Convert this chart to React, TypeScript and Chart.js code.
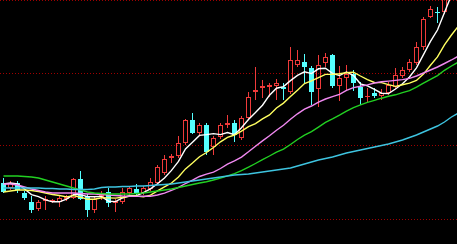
import React, { useEffect, useRef } from 'react';
import { Chart, registerables } from 'chart.js';

Chart.register(...registerables);

// trading-day index (x axis)
const days = [0,1,2,3,4,5,6,7,8,9,10,11,12,13,14,15,16,17,18,19,20,21,22,23,24,25,26,27,28,29,30,31,32,33,34,35,36,37,38,39,40,41,42,43,44,45,46,47,48,49,50,51,52,53,54,55,56,57,58,59,60,61,62,63,64,65];

// OHLC (last two days are above the visible range)
const opens = [6.7,6.2,6.7,5.7,4.8,4.1,4.9,4.8,4.8,5.1,5.2,7.1,5.4,4.0,5.3,5.8,4.7,4.8,5.7,6.1,5.7,6.1,6.7,7.7,9.2,9.4,10.7,13.0,11.7,12.5,10.3,11.3,12.5,12.7,11.2,13.2,15.8,16.2,16.3,16.4,16.3,15.8,18.5,18.8,18.2,16.1,18.7,19.5,16.4,17.2,17.6,16.3,15.3,15.7,15.4,15.7,16.3,17.4,18.0,18.7,20.3,23.3,23.8,23.8,null,null];
const highs = [7.2,6.9,6.9,5.9,5.4,5.0,5.4,5.1,5.5,5.5,7.2,7.9,5.6,5.3,5.9,6.2,5.1,6.2,6.4,6.6,6.4,7.2,8.5,9.5,9.6,11.4,13.1,13.7,12.7,12.7,11.4,12.7,13.5,13.0,13.4,15.8,18.3,17.0,16.7,17.1,16.7,20.3,20.0,19.6,18.4,19.5,19.7,19.6,18.4,18.5,18.0,16.8,16.2,16.2,16.1,16.8,18.2,18.3,19.1,20.8,23.3,24.4,24.3,28.0,null,null];
const lows = [5.7,6.0,5.7,5.0,3.7,3.9,4.0,4.7,4.3,4.9,5.1,5.0,3.3,3.7,5.0,4.3,3.8,4.6,5.5,5.5,5.5,5.9,6.5,7.5,8.7,9.2,10.5,11.6,11.5,9.5,9.5,11.1,12.2,10.8,11.0,13.0,15.0,15.2,15.3,15.0,15.0,15.6,18.3,16.7,14.5,14.3,18.3,16.2,14.9,16.0,15.9,14.5,14.7,15.2,15.0,15.5,16.1,17.2,17.8,18.5,20.0,23.2,22.7,23.6,null,null];
const closes = [5.8,6.7,6.0,5.2,4.0,4.8,5.1,5.0,5.2,5.3,7.1,5.1,4.0,5.1,5.5,4.7,4.9,5.8,6.2,5.6,6.2,6.8,8.3,9.1,9.4,10.7,13.0,11.7,12.5,9.8,11.2,12.5,12.7,11.5,13.2,15.3,16.0,16.4,16.5,16.7,16.1,19.0,19.0,18.3,15.8,18.5,19.3,16.4,17.2,17.6,16.7,15.2,15.4,15.4,15.7,16.5,17.5,18.0,18.8,20.3,23.1,24.1,23.7,27.5,null,null];

// moving averages
const ma5 = [6.6,6.7,6.6,6.1,5.54,5.34,5.02,4.82,4.82,5.08,5.54,5.54,5.34,5.32,5.36,4.88,4.84,5.2,5.42,5.44,5.74,6.12,6.62,7.2,7.96,8.86,10.1,10.78,11.46,11.54,11.64,11.54,11.74,11.54,12.22,13.04,13.74,14.48,15.48,16.18,16.34,16.94,17.46,17.82,17.64,18.12,18.18,17.66,17.44,17.8,17.44,16.62,16.42,16.06,15.68,15.64,16.1,16.62,17.3,18.22,19.54,20.86,22.0,23.74,25.5,27.5];
const ma10 = [5.8,5.9,6.0,6.0,5.95,5.85,5.7,5.55,5.45,5.31,5.44,5.28,5.08,5.07,5.22,5.21,5.19,5.27,5.37,5.4,5.31,5.48,5.91,6.31,6.7,7.3,8.11,8.7,9.33,9.75,10.25,10.82,11.26,11.5,11.88,12.34,12.64,13.11,13.51,14.2,14.69,15.34,15.97,16.65,16.91,17.23,17.56,17.56,17.63,17.72,17.78,17.4,17.04,16.75,16.74,16.54,16.36,16.52,16.68,16.95,17.59,18.48,19.31,20.52,21.5,22.4];
const ma20 = [6.6,6.6,6.5,6.3,6.1,5.95,5.8,5.7,5.7,5.7,5.7,5.65,5.6,5.6,5.55,5.5,5.45,5.4,5.38,5.36,5.38,5.38,5.5,5.69,5.96,6.26,6.65,6.99,7.35,7.58,7.78,8.15,8.59,8.91,9.29,9.82,10.38,10.91,11.42,11.98,12.47,13.08,13.62,14.08,14.4,14.79,15.1,15.34,15.57,15.96,16.24,16.37,16.51,16.7,16.83,16.89,16.96,17.04,17.16,17.4,17.7,18.0,18.3,18.65,19.0,19.4];
const ma30 = [7.4,7.4,7.4,7.35,7.3,7.2,7.0,6.8,6.6,6.4,6.2,6.0,5.8,5.7,5.65,5.6,5.6,5.6,5.6,5.65,5.7,5.8,5.9,6.0,6.1,6.25,6.4,6.55,6.7,6.82,7.0,7.19,7.42,7.63,7.93,8.28,8.65,9.03,9.4,9.78,10.08,10.55,11.05,11.49,11.83,12.29,12.77,13.12,13.49,13.89,14.24,14.52,14.76,14.97,15.18,15.37,15.52,15.73,15.94,16.29,16.69,17.07,17.44,17.97,18.4,18.8];
const ma60 = [6.2,6.2,6.2,6.2,6.2,6.2,6.15,6.15,6.1,6.1,6.05,6.05,6.05,6.1,6.25,6.3,6.3,6.35,6.35,6.4,6.4,6.45,6.5,6.55,6.6,6.7,6.8,6.9,7.0,7.1,7.2,7.3,7.4,7.5,7.55,7.6,7.7,7.8,7.9,8.0,8.1,8.2,8.4,8.6,8.8,9.0,9.15,9.3,9.5,9.7,9.85,10.0,10.15,10.3,10.45,10.6,10.8,11.0,11.25,11.5,11.8,12.1,12.4,12.8,13.3,13.7];

// horizontal reference levels (dotted grid)
const gridLevels = [3.1, 10.4, 17.7, 25.0];
const yMin = 0.6;
const yMax = 25.0;
const xMin = -0.5;
const xMax = 64.79;

const RED = '#f03a3a';
const CYAN = '#54ffff';

const candlePlugin = {
  id: 'candles',
  beforeDatasetsDraw(chart: any) {
    const { ctx, chartArea } = chart;
    const xs = chart.scales.x;
    const ys = chart.scales.y;
    ctx.save();
    ctx.beginPath();
    ctx.rect(chartArea.left, chartArea.top, chartArea.right - chartArea.left, chartArea.bottom - chartArea.top);
    ctx.clip();
    for (let i = 0; i < days.length; i++) {
      const o = opens[i];
      const h = highs[i];
      const l = lows[i];
      const c = closes[i];
      if (o == null || h == null || l == null || c == null) continue;
      const cx = Math.floor(xs.getPixelForValue(days[i]));
      const yo = Math.round(ys.getPixelForValue(o));
      const yc = Math.round(ys.getPixelForValue(c));
      const yh = Math.round(ys.getPixelForValue(h));
      const yl = Math.round(ys.getPixelForValue(l));
      const top = Math.min(yo, yc);
      const bot = Math.max(yo, yc);
      const hgt = Math.max(1, bot - top);
      if (c >= o) {
        ctx.fillStyle = RED;
        ctx.strokeStyle = RED;
        ctx.lineWidth = 1;
        if (top > yh) ctx.fillRect(cx, yh, 1, top - yh);
        if (yl > top + hgt) ctx.fillRect(cx, top + hgt, 1, yl - (top + hgt));
        if (hgt <= 2) {
          ctx.fillRect(cx - 2, top, 5, hgt);
        } else {
          ctx.strokeRect(cx - 2 + 0.5, top + 0.5, 4, hgt - 1);
        }
      } else {
        ctx.fillStyle = CYAN;
        ctx.fillRect(cx, yh, 1, Math.max(1, yl - yh));
        ctx.fillRect(cx - 2, top, 5, hgt);
      }
    }
    ctx.restore();
  },
};

function line(values: number[], color: string) {
  return {
    type: 'line' as const,
    data: values.map((v, i) => ({ x: days[i], y: v })),
    borderColor: color,
    backgroundColor: color,
    borderWidth: 1.4,
    pointRadius: 0,
    tension: 0,
    fill: false,
  };
}

export default function App() {
  const canvasRef = useRef<HTMLCanvasElement | null>(null);

  useEffect(() => {
    if (!canvasRef.current) return;
    const chart = new Chart(canvasRef.current, {
      type: 'line',
      data: {
        datasets: [
          line(ma60, '#3ec4e0'),
          line(ma30, '#22d022'),
          line(ma20, '#f088f0'),
          line(ma10, '#ffff60'),
          line(ma5, '#ffffff'),
        ] as any,
      },
      options: {
        animation: false,
        responsive: true,
        maintainAspectRatio: false,
        events: [],
        layout: { padding: 0 },
        plugins: { legend: { display: false }, tooltip: { enabled: false } },
        scales: {
          x: { type: 'linear', min: xMin, max: xMax, display: false },
          y: {
            type: 'linear',
            min: yMin,
            max: yMax,
            ticks: { display: false },
            grid: { color: 'rgb(160,0,0)', drawTicks: false, lineWidth: 1 },
            border: { display: false, dash: [1, 2] },
            afterBuildTicks: (scale: any) => {
              scale.ticks = gridLevels.map((v) => ({ value: v }));
            },
            afterFit: (scale: any) => {
              scale.width = 0;
            },
          },
        },
      } as any,
      plugins: [candlePlugin],
    });
    return () => chart.destroy();
  }, []);

  return (
    <div style={{ position: 'fixed', left: 0, top: 0, width: 457, height: 244, background: '#000' }}>
      <canvas ref={canvasRef} />
    </div>
  );
}
